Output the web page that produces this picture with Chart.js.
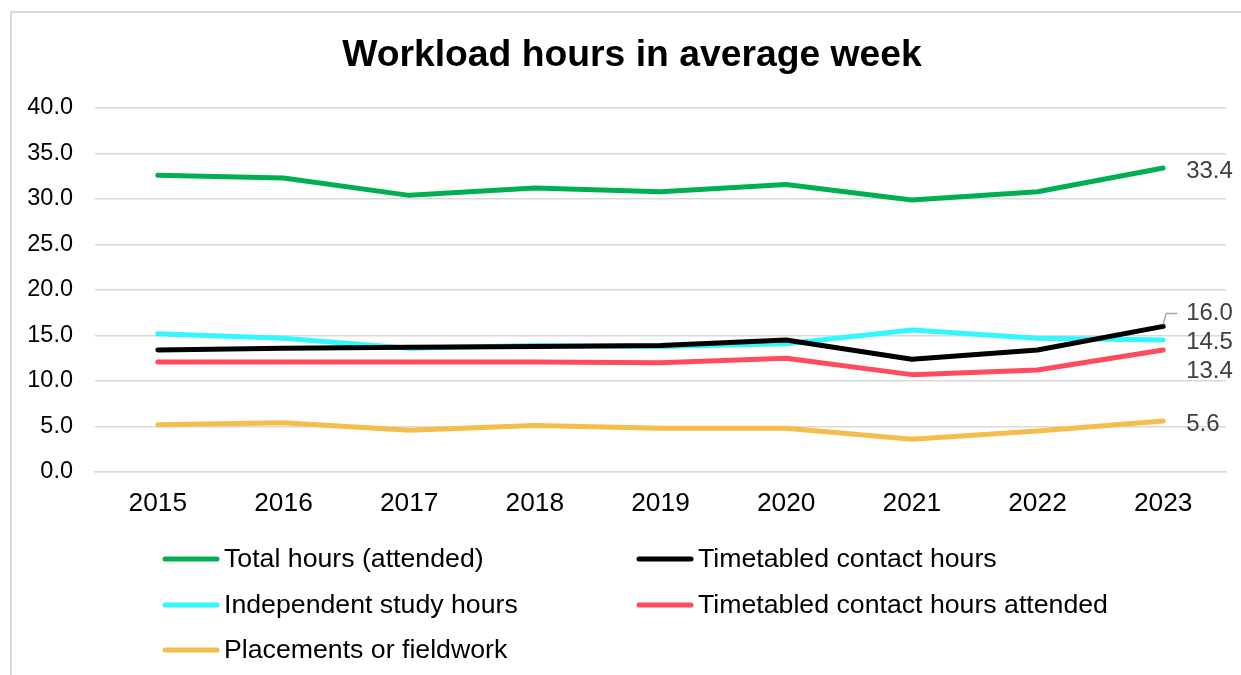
<!DOCTYPE html>
<html>
<head>
<meta charset="utf-8">
<script src="https://cdn.jsdelivr.net/npm/chart.js@4/dist/chart.umd.min.js"></script>
<style>
  html, body { margin: 0; padding: 0; background: #fff; overflow: hidden; }
  #wrap { position: relative; width: 1241px; height: 675px; }
  #frame { position: absolute; left: 10px; top: 11px; width: 1400px; height: 900px; border: 2px solid #d9d9d9; box-sizing: border-box; pointer-events: none; }
  canvas { position: absolute; left: 0; top: 0; }
</style>
</head>
<body>
<div id="wrap">
  <canvas id="c" width="1241" height="675"></canvas>
  <div id="frame"></div>
</div>
<script>
const years = ['2015', '2016', '2017', '2018', '2019', '2020', '2021', '2022', '2023'];
const totalHours = [32.6, 32.3, 30.4, 31.2, 30.8, 31.6, 29.9, 30.8, 33.4];
const contactHours = [13.4, 13.6, 13.7, 13.8, 13.9, 14.5, 12.4, 13.4, 16.0];
const independentHours = [15.2, 14.7, 13.6, 13.9, 13.8, 14.1, 15.6, 14.7, 14.5];
const contactAttended = [12.1, 12.1, 12.1, 12.1, 12.0, 12.5, 10.7, 11.2, 13.4];
const placements = [5.2, 5.4, 4.6, 5.1, 4.8, 4.8, 3.6, 4.5, 5.6];
const seriesNames = ['Total hours (attended)', 'Timetabled contact hours', 'Independent study hours', 'Timetabled contact hours attended', 'Placements or fieldwork'];
const yTicks = [0, 5, 10, 15, 20, 25, 30, 35, 40];
const chartTitle = 'Workload hours in average week';

const FONT = "'Liberation Sans', Arial, sans-serif";
Chart.defaults.font.family = FONT;

const colors = ['#00B050', '#000000', '#33F6FF', '#FF4B5F', '#F4BD4C'];
const seriesData = [totalHours, contactHours, independentHours, contactAttended, placements];

// end label offsets (dy in px relative to last point), leader line for shifted label
const endLabelCfg = [
  { dy: 3, leader: false },
  { dy: -13, leader: true },
  { dy: 2, leader: false },
  { dy: 21, leader: false },
  { dy: 3, leader: false }
];

const titlePlugin = {
  id: 'titlePlugin',
  afterDraw(chart) {
    const ctx = chart.ctx;
    ctx.save();
    ctx.font = "bold 37.3px " + FONT;
    ctx.fillStyle = '#000';
    ctx.textAlign = 'center';
    ctx.textBaseline = 'middle';
    ctx.fillText(chartTitle, 632, 56);
    ctx.restore();
  }
};

const endLabels = {
  id: 'endLabels',
  afterDatasetsDraw(chart) {
    const ctx = chart.ctx;
    ctx.save();
    ctx.font = "24px " + FONT;
    ctx.fillStyle = '#404040';
    ctx.textBaseline = 'middle';
    ctx.textAlign = 'left';
    chart.data.datasets.forEach((ds, i) => {
      const meta = chart.getDatasetMeta(i);
      const last = meta.data[meta.data.length - 1];
      const v = ds.data[ds.data.length - 1];
      const cfg = endLabelCfg[i];
      const tx = last.x + 23;
      const ty = last.y + cfg.dy;
      if (cfg.leader) {
        ctx.strokeStyle = '#a6a6a6';
        ctx.lineWidth = 1.5;
        ctx.beginPath();
        ctx.moveTo(last.x, last.y - 2);
        ctx.lineTo(last.x + 3, ty);
        ctx.lineTo(last.x + 14, ty);
        ctx.stroke();
      }
      ctx.fillText(v.toFixed(1), tx, ty);
    });
    ctx.restore();
  }
};

const customLegend = {
  id: 'customLegend',
  afterDraw(chart) {
    const ctx = chart.ctx;
    ctx.save();
    ctx.font = "26.7px " + FONT;
    ctx.fillStyle = '#000';
    ctx.textBaseline = 'middle';
    ctx.textAlign = 'left';
    const cols = [163, 637];
    const rows = [559, 605, 650];
    chart.data.datasets.forEach((ds, i) => {
      const x = cols[i % 2];
      const y = rows[Math.floor(i / 2)];
      ctx.strokeStyle = ds.borderColor;
      ctx.lineWidth = 5;
      ctx.lineCap = 'round';
      ctx.beginPath();
      ctx.moveTo(x + 2, y);
      ctx.lineTo(x + 54, y);
      ctx.stroke();
      ctx.fillText(ds.label, x + 61, y + 1);
    });
    ctx.restore();
  }
};

new Chart(document.getElementById('c'), {
  type: 'line',
  data: {
    labels: years,
    datasets: seriesNames.map((name, i) => ({
      label: name,
      data: seriesData[i],
      borderColor: colors[i],
      backgroundColor: colors[i],
      borderWidth: 5,
      pointRadius: 0,
      pointHoverRadius: 0,
      tension: 0,
      borderCapStyle: 'round',
      borderJoinStyle: 'round',
      fill: false
    }))
  },
  options: {
    responsive: false,
    animation: false,
    events: [],
    layout: { padding: { left: 0, right: 15, top: 108, bottom: 143 } },
    plugins: {
      legend: { display: false },
      tooltip: { enabled: false },
      title: { display: false }
    },
    scales: {
      x: {
        offset: true,
        grid: { display: false, drawTicks: false },
        border: { display: true, color: '#d9d9d9', width: 1.5 },
        ticks: { color: '#000', font: { size: 26.3 }, padding: 16, maxRotation: 0 },
        afterFit(s) { s.height = 60; }
      },
      y: {
        min: 0,
        max: 40,
        afterBuildTicks(s) { s.ticks = yTicks.map(v => ({ value: v })); },
        grid: { color: '#d9d9d9', lineWidth: 1.5, drawTicks: false },
        border: { display: false },
        ticks: {
          color: '#000',
          font: { size: 23.5 },
          padding: 22,
          callback: v => Number(v).toFixed(1)
        },
        afterFit(s) { s.width = 95; }
      }
    }
  },
  plugins: [titlePlugin, endLabels, customLegend]
});
</script>
</body>
</html>
